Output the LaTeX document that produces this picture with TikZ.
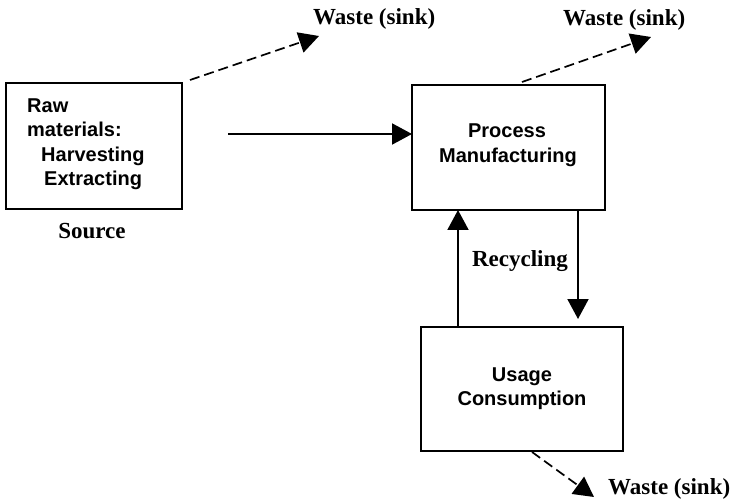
\documentclass[tikz,border=0pt]{standalone}
\usepackage{fontspec}
\setmainfont{Liberation Serif}
\newfontfamily\boxfont{Liberation Sans}
\usetikzlibrary{arrows.meta}
\begin{document}
\begin{tikzpicture}[x=1bp,y=-1bp,
  stage/.style={draw, line width=1.9bp, minimum width=#1, inner sep=0pt},
  boxtext/.style={font=\boxfont\bfseries\fontsize{20bp}{25bp}\selectfont, inner sep=0pt},
  label/.style={font=\bfseries\fontsize{23bp}{27bp}\selectfont, inner sep=0pt},
  flow/.style={line width=2bp, -{Triangle[length=20bp,width=21bp]}},
  waste/.style={line width=1.7bp, dash pattern=on 10bp off 5bp, -{Triangle[length=20bp,width=21bp]}}
]
\useasboundingbox (0,0) rectangle (733,503);

% stage boxes
\node[stage=176bp, minimum height=126bp] (raw) at (94,146) {};
\node[stage=193bp, minimum height=125bp] (proc) at (508.5,147.5) {};
\node[stage=202bp, minimum height=124bp] (use) at (522,389) {};

% box texts
\node[boxtext, anchor=base west] (t1) at (27,113) {Raw};
\node[boxtext, anchor=base west] (t2) at (27,137) {materials:};
\node[boxtext, anchor=base west] (t3) at (41,162) {Harvesting};
\node[boxtext, anchor=base west] (t4) at (44,186) {Extracting};
\node[boxtext, anchor=base] (p1) at (507,138) {Process};
\node[boxtext, anchor=base] (p2) at (508,163) {Manufacturing};
\node[boxtext, anchor=base] (u1) at (522,381) {Usage};
\node[boxtext, anchor=base] (u2) at (522,405) {Consumption};

% labels
\node[label, anchor=base] (src) at (92,239) {Source};
\node[label, anchor=base] (rec) at (520,267) {Recycling};
\node[label, anchor=base west] (w1) at (313,25) {Waste (sink)};
\node[label, anchor=base west] (w2) at (563,26) {Waste (sink)};
\node[label, anchor=base west] (w3) at (608,494) {Waste (sink)};

% connector end points
\coordinate (feed) at (228,134);
\coordinate (feedend) at (412,134);
\coordinate (upfrom) at (458,327);
\coordinate (upto) at (458,210);
\coordinate (downfrom) at (578,210);
\coordinate (downto) at (578,319);
\coordinate (rawout) at (190,80);
\coordinate (rawwaste) at (319,36);
\coordinate (procout) at (522,82);
\coordinate (procwaste) at (651,37);
\coordinate (useout) at (532,452);
\coordinate (usewaste) at (594,497);

% material flows
\draw[flow] (feed) -- (feedend);
\draw[flow] (upfrom) -- (upto);
\draw[flow] (downfrom) -- (downto);

% waste streams
\draw[waste] (rawout) -- (rawwaste);
\draw[waste] (procout) -- (procwaste);
\draw[waste] (useout) -- (usewaste);
\end{tikzpicture}
\end{document}
